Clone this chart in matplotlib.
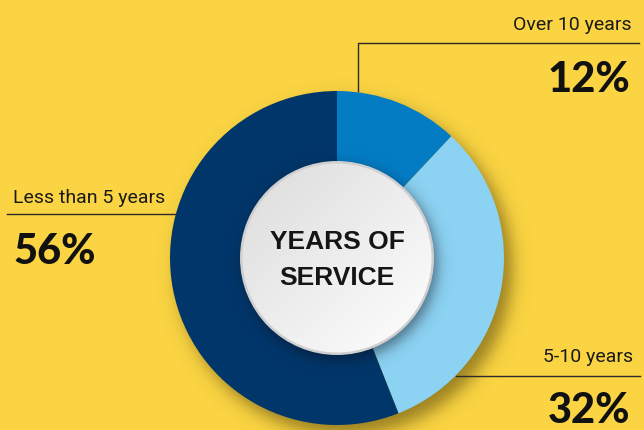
import numpy as np
import matplotlib
matplotlib.use('Agg')
import matplotlib.pyplot as plt
from matplotlib.patches import Circle

# data
categories = ['Over 10 years', '5-10 years', 'Less than 5 years']
shares = [12, 32, 56]
slice_colors = ['#037cc4', '#8cd2f2', '#01366a']
center_title = 'YEARS OF\nSERVICE'

W, H = 644, 430
bg = '#fad442'

fig = plt.figure(figsize=(W / 100, H / 100), dpi=100, facecolor=bg)
ax = fig.add_axes([0, 0, 1, 1])
ax.set_facecolor(bg)

cx, cy = 337, H - 258
R_out, R_in = 167, 97


def soft_shadow(x0, y0, r, blur, alpha, color=(0.35, 0.28, 0.05), z=1):
    xs = np.arange(W) + 0.5
    ys = np.arange(H) + 0.5
    X, Y = np.meshgrid(xs, ys)
    d = np.hypot(X - x0, Y - y0)
    a = alpha / (1 + np.exp((d - r) / blur))
    img = np.zeros((H, W, 4))
    img[..., 0], img[..., 1], img[..., 2] = color
    img[..., 3] = a
    ax.imshow(img, extent=(0, W, 0, H), origin='lower', zorder=z, interpolation='bilinear')


# drop shadow of the donut
soft_shadow(cx + 8, cy - 10, R_out, 5, 0.6, z=1)

wedges, _ = ax.pie(shares, colors=slice_colors, startangle=90, counterclock=False,
                   radius=R_out, center=(cx, cy),
                   wedgeprops=dict(width=R_out - R_in + 10, linewidth=0))
for w in wedges:
    w.set_zorder(2)

# shadow of the centre disc on the ring
soft_shadow(cx + 3, cy - 5, R_in, 4, 0.5, color=(0.05, 0.05, 0.1), z=3)

# centre disc with a soft grey gradient
ring = Circle((cx, cy), R_in, facecolor='#cfcfcf', edgecolor='none', zorder=4)
ax.add_patch(ring)
gx = np.linspace(0, 1, 200)
GX, GY = np.meshgrid(gx, gx)
t = np.clip((GX + (1 - GY)) / 2, 0, 1)
grad = np.empty((200, 200, 3))
c0 = np.array([0.86, 0.86, 0.86])
c1 = np.array([1.0, 1.0, 1.0])
for k in range(3):
    grad[..., k] = c0[k] + (c1[k] - c0[k]) * t
disc = Circle((cx, cy), R_in - 2.5, transform=ax.transData)
im = ax.imshow(grad, extent=(cx - R_in, cx + R_in, cy + R_in, cy - R_in),
               zorder=5, interpolation='bilinear')
im.set_clip_path(disc)

ax.text(cx, H - 260, center_title, ha='center', va='center', fontsize=19,
        family='Liberation Sans', fontweight='bold', color='#151515',
        linespacing=1.6, zorder=6)

# labels and leader lines
lab_font = dict(family='Roboto', fontsize=14, color='#1a1a1a')
pct_font = dict(family='Lato', fontsize=30, fontweight='black', color='#111111')
line_kw = dict(color='#2a2a2a', lw=1.0, zorder=6)

# Over 10 years
ax.plot([358, 358, 639], [H - 91, H - 43, H - 43], **line_kw)
ax.text(632, H - 30, categories[0], ha='right', va='baseline', **lab_font)
ax.text(630, H - 92, f'{shares[0]}%', ha='right', va='baseline', **pct_font)

# 5-10 years
ax.plot([456, 640], [H - 376, H - 376], **line_kw)
ax.text(633, H - 362, categories[1], ha='right', va='baseline', **lab_font)
ax.text(630, H - 423, f'{shares[1]}%', ha='right', va='baseline', **pct_font)

# Less than 5 years
ax.plot([7, 175], [H - 214, H - 214], **line_kw)
ax.text(13, H - 203, categories[2], ha='left', va='baseline', **lab_font)
ax.text(13, H - 264, f'{shares[2]}%', ha='left', va='baseline', **pct_font)

ax.set_xlim(0, W)
ax.set_ylim(0, H)
ax.set_aspect('auto')
ax.axis('off')

fig.savefig('out.png', dpi=100, facecolor=bg)
